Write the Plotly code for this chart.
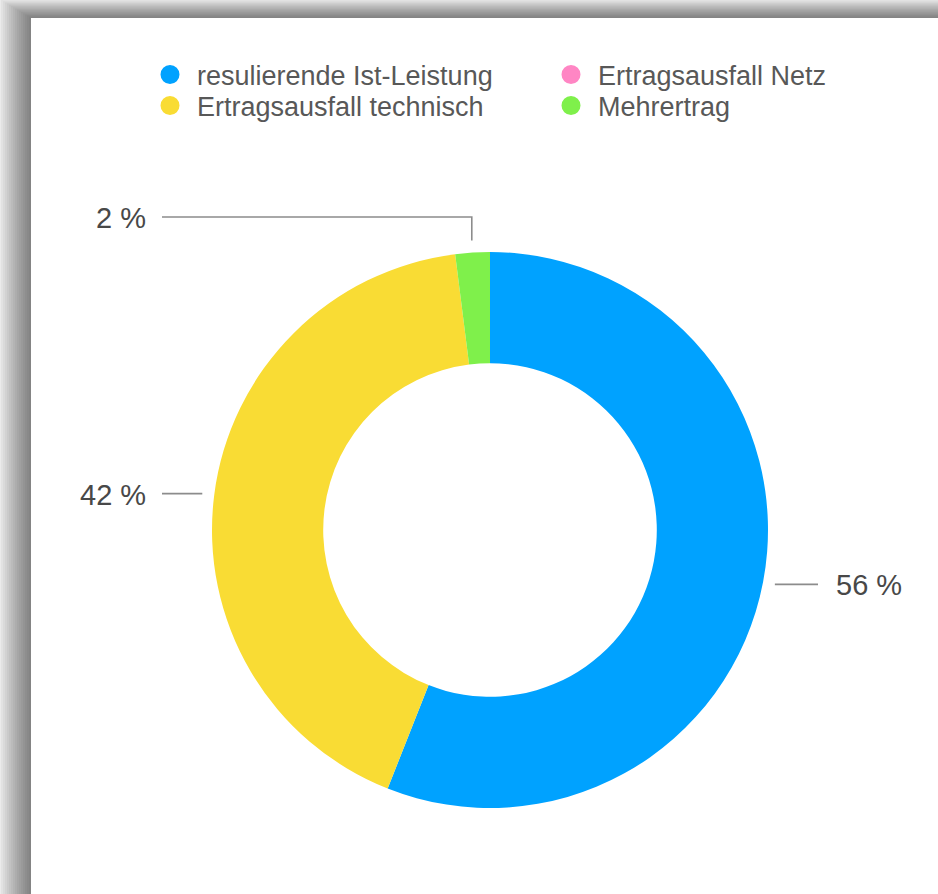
import math
import plotly.graph_objects as go

# Output split of the plant (percent)
categories = ["resulierende Ist-Leistung", "Ertragsausfall Netz",
              "Ertragsausfall technisch", "Mehrertrag"]
shares = [56, 0, 42, 2]
colors = ["#00a2ff", "#ff86c4", "#f9dc34", "#7ff04b"]

W, H = 938, 894
CX, CY, R = 490, 530, 278          # donut centre / outer radius in px

# legend grid: two columns x two rows, one legend box per entry
legend_names = ["legend", "legend2", "legend3", "legend4"]
legend_cols = [170, 571, 170, 571]   # marker centre x (px)
legend_rows = [75, 75, 106, 106]     # marker centre y (px)


def fx(x):
    return x / W


def fy(y):
    return 1 - y / H


fig = go.Figure()

# donut
fig.add_trace(go.Pie(
    labels=categories, values=shares, sort=False, direction="clockwise",
    rotation=0, hole=0.6, textinfo="none", showlegend=False,
    marker=dict(colors=colors, line=dict(width=0)),
    domain=dict(x=[fx(CX - R), fx(CX + R)], y=[fy(CY + R), fy(CY - R)]),
))

# legend entries with round markers
for name, col, lg in zip(categories, colors, legend_names):
    fig.add_trace(go.Scatter(
        x=[None], y=[None], mode="markers", name=name, legend=lg,
        marker=dict(color=col, size=16, symbol="circle",
                    line=dict(color=col, width=3)),
    ))

shapes = []
annotations = []

# card with soft drop shadow
for k in range(16, 0, -1):
    shapes.append(dict(type="rect", xref="paper", yref="paper", layer="below",
                       x0=fx(31 - 2 * k), y0=fy(H + 60), x1=fx(W + 60), y1=fy(18 - 1.2 * k),
                       line=dict(width=0), fillcolor="rgba(0,0,0,0.036)"))
shapes.append(dict(type="rect", xref="paper", yref="paper", layer="below",
                   x0=fx(31), y0=fy(H + 60), x1=fx(W + 60), y1=fy(18),
                   line=dict(width=0), fillcolor="white"))

# outside labels with leader lines
total = sum(shares)
GAP, HLEN, TOP_ELBOW = 12, 38, 35
col_left, col_right = CX - (R + GAP + HLEN), CX + (R + GAP + HLEN)
start = 0.0
for v in shares:
    if v <= 0:
        continue
    mid = math.radians((start + v / 2) / total * 360)
    start += v
    dx, dy = math.sin(mid), -math.cos(mid)
    ax, ay = CX + (R + GAP) * dx, CY + (R + GAP) * dy
    left = dx < 0
    colx = col_left if left else col_right
    if abs(dx) < 0.35:
        ey = CY - R - TOP_ELBOW if dy < 0 else CY + R + TOP_ELBOW
        pts = [(ax, ay), (ax, ey), (colx, ey)]
    else:
        ey = ay
        pts = [(ax, ay), (colx, ay)]
    path = "M " + " L ".join(f"{fx(px)},{fy(py)}" for px, py in pts)
    shapes.append(dict(type="path", xref="paper", yref="paper", path=path,
                       line=dict(color="#8c8c8c", width=1.6)))
    annotations.append(dict(
        xref="paper", yref="paper", showarrow=False,
        x=fx(colx - 14 if left else colx + 16), y=fy(ey + 1),
        xanchor="right" if left else "left", yanchor="middle",
        text=f"{v} %", font=dict(size=29, color="#484848")))

ITEMW = 44
center_off = (ITEMW + 10) / 2
legend_style = dict(orientation="v", xanchor="left", yanchor="top",
                    bgcolor="rgba(0,0,0,0)", borderwidth=0, itemwidth=ITEMW,
                    font=dict(family="Liberation Sans, Arial, sans-serif", size=27, color="#585858"),
                    itemsizing="trace")
legend_layout = {
    lg: dict(x=fx(cx - center_off), y=fy(cy - 24.6), **legend_style)
    for lg, cx, cy in zip(legend_names, legend_cols, legend_rows)
}

fig.update_layout(
    width=W, height=H,
    margin=dict(l=0, r=0, t=0, b=0),
    paper_bgcolor="#f4f4f4", plot_bgcolor="rgba(0,0,0,0)",
    font=dict(family="Liberation Sans, Arial, sans-serif", color="#484848"),
    xaxis=dict(visible=False), yaxis=dict(visible=False),
    shapes=shapes, annotations=annotations,
    **legend_layout,
)

fig.write_html("out.html")
